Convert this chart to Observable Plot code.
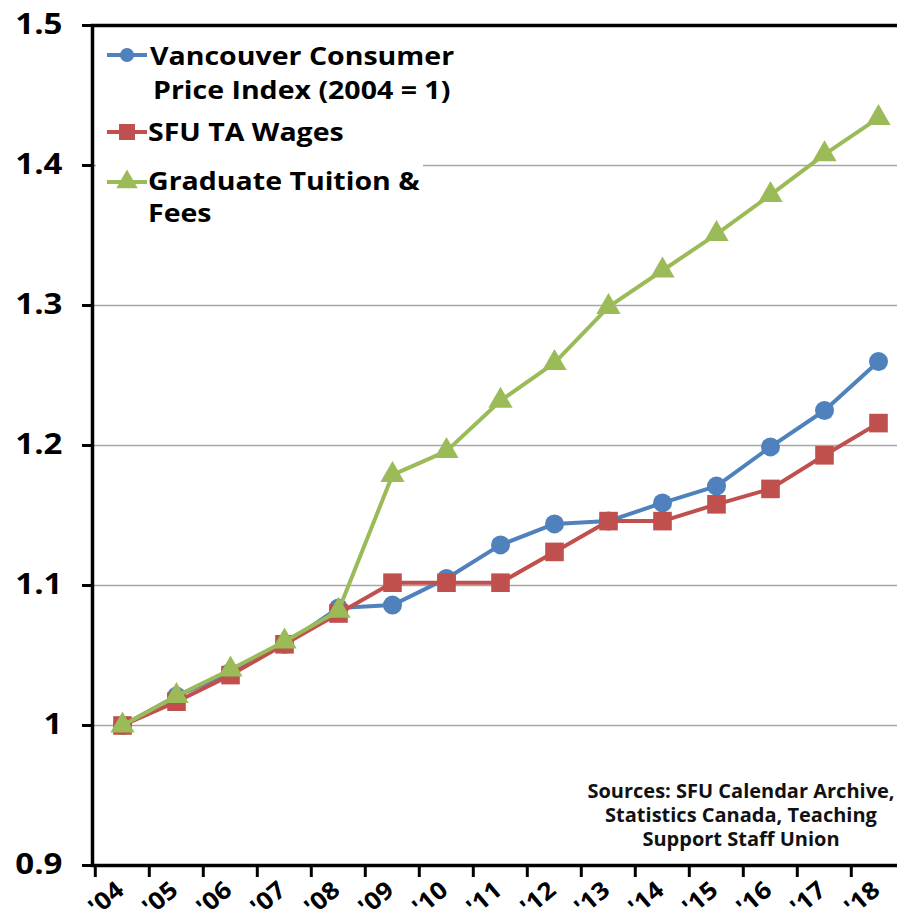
<!DOCTYPE html>
<html>
<head>
<meta charset="utf-8">
<script src="https://cdn.jsdelivr.net/npm/d3@7"></script>
<script src="https://cdn.jsdelivr.net/npm/@observablehq/plot@0.6"></script>
<style>
  html, body { margin: 0; padding: 0; background: #fff; }
  #wrap { position: relative; width: 897px; height: 917px; overflow: hidden; font-family: "Open Sans", sans-serif; }
  #wrap svg { max-width: none !important; }
  #overlay { position: absolute; left: 0; top: 0; }
</style>
</head>
<body>
<div id="wrap"></div>
<script>
const years = ["'04","'05","'06","'07","'08","'09","'10","'11","'12","'13","'14","'15","'16","'17","'18"];
const cpi =     [1.000, 1.021, 1.038, 1.058, 1.084, 1.086, 1.105, 1.129, 1.144, 1.146, 1.159, 1.171, 1.199, 1.225, 1.260];
const taWages = [1.000, 1.017, 1.036, 1.058, 1.080, 1.102, 1.102, 1.102, 1.124, 1.146, 1.146, 1.158, 1.169, 1.193, 1.216];
const tuition = [1.000, 1.021, 1.040, 1.060, 1.082, 1.179, 1.196, 1.232, 1.259, 1.299, 1.325, 1.351, 1.379, 1.408, 1.434];
const seriesNames = ["Vancouver Consumer Price Index (2004 = 1)", "SFU TA Wages", "Graduate Tuition & Fees"];
const colors = ["#4F81BD", "#C0504D", "#9BBB59"];
const yTicks = [0.9, 1.0, 1.1, 1.2, 1.3, 1.4, 1.5];
const gridTicks = [1.0, 1.1, 1.2, 1.3, 1.4];

const rows = (vals) => years.map((yr, i) => ({year: yr, value: vals[i]}));
const cpiRows = rows(cpi), taRows = rows(taWages), tuRows = rows(tuition);

const W = 910, H = 917, mL = 92, mR = 2, mT = 25, mB = 52;
const bw = (W - mL - mR) / years.length;

const chart = Plot.plot({
  width: W, height: H,
  marginTop: mT, marginBottom: mB, marginLeft: mL, marginRight: mR,
  style: {fontFamily: "Open Sans", color: "#000", background: "transparent", overflow: "visible"},
  x: {type: "band", domain: years, padding: 0, axis: null},
  y: {domain: [0.9, 1.5], axis: null},
  marks: [
    Plot.ruleY(gridTicks, {stroke: "#a6a6a6", strokeWidth: 1.5}),
    Plot.line(cpiRows, {x: "year", y: "value", stroke: colors[0], strokeWidth: 4}),
    Plot.dot(cpiRows, {x: "year", y: "value", fill: colors[0], r: 9.5, symbol: "circle"}),
    Plot.line(taRows, {x: "year", y: "value", stroke: colors[1], strokeWidth: 4}),
    Plot.dot(taRows, {x: "year", y: "value", fill: colors[1], r: 10.5, symbol: "square"}),
    Plot.line(tuRows, {x: "year", y: "value", stroke: colors[2], strokeWidth: 4}),
    Plot.dot(tuRows, {x: "year", y: "value", fill: colors[2], r: 9, symbol: "triangle"}),
    Plot.frame({stroke: "#000", strokeWidth: 3.5}),
    Plot.axisY(yTicks, {tickSize: 10, tickPadding: 20, strokeWidth: 3, fontSize: 28, fontWeight: "bold", label: null,
      tickFormat: d => d === 1 ? "1" : d.toFixed(1)}),
    Plot.axisX(years, {tickSize: 12, strokeWidth: 3, stroke: "#000", tickFormat: () => "", label: null, dx: -bw / 2}),
    Plot.text(years, {x: d => d, frameAnchor: "bottom", text: d => d, rotate: -40, textAnchor: "end", lineAnchor: "bottom",
      fontSize: 24, fontWeight: "bold", fill: "#000", dx: 3, dy: 27})
  ]
});
document.getElementById("wrap").appendChild(chart);

function stretch(nodes, f) {
  nodes.forEach(el => {
    const L = el.getComputedTextLength();
    el.setAttribute("textLength", (L * f).toFixed(1));
    el.setAttribute("lengthAdjust", "spacingAndGlyphs");
  });
}
const allTexts = Array.from(chart.querySelectorAll("text"));
stretch(allTexts.filter(el => /^\d/.test(el.textContent.trim())), 1.18);
stretch(allTexts.filter(el => years.includes(el.textContent.trim())), 1.1);

// Legend & source note overlay
const ov = d3.select("#wrap").append("svg").attr("id", "overlay")
  .attr("width", 897).attr("height", 917)
  .style("font-family", "Open Sans").style("font-weight", "bold");
ov.append("rect").attr("x", 96).attr("y", 28).attr("width", 327).attr("height", 208).attr("fill", "#fff");
const legendItems = [
  {lines: ["Vancouver Consumer", "Price Index (2004 = 1)"], ly: 55, tx: [150, 153], ty: [65, 99], sym: d3.symbolCircle, size: Math.PI * 49, color: colors[0]},
  {lines: ["SFU TA Wages"], ly: 132, tx: [148], ty: [141], sym: d3.symbolSquare, size: 256, color: colors[1]},
  {lines: ["Graduate Tuition &", "Fees"], ly: 182, tx: [148, 148], ty: [190, 222], sym: d3.symbolTriangle, size: 200, color: colors[2]}
];
const legendTexts = [];
legendItems.forEach(it => {
  ov.append("line").attr("x1", 107).attr("x2", 147).attr("y1", it.ly).attr("y2", it.ly)
    .attr("stroke", it.color).attr("stroke-width", 4);
  ov.append("path").attr("d", d3.symbol(it.sym, it.size)()).attr("transform", `translate(127,${it.ly})`).attr("fill", it.color);
  it.lines.forEach((t, i) => {
    legendTexts.push(ov.append("text").attr("x", it.tx[i]).attr("y", it.ty[i]).attr("font-size", 25).attr("fill", "#000").text(t).node());
  });
});
stretch(legendTexts, 1.14);
const sourceLines = ["Sources: SFU Calendar Archive,", "Statistics Canada, Teaching", "Support Staff Union"];
sourceLines.forEach((t, i) => {
  ov.append("text").attr("x", 741).attr("y", 798 + i * 24).attr("text-anchor", "middle")
    .attr("font-size", 20).attr("fill", "#111").text(t);
});
</script>
</body>
</html>
